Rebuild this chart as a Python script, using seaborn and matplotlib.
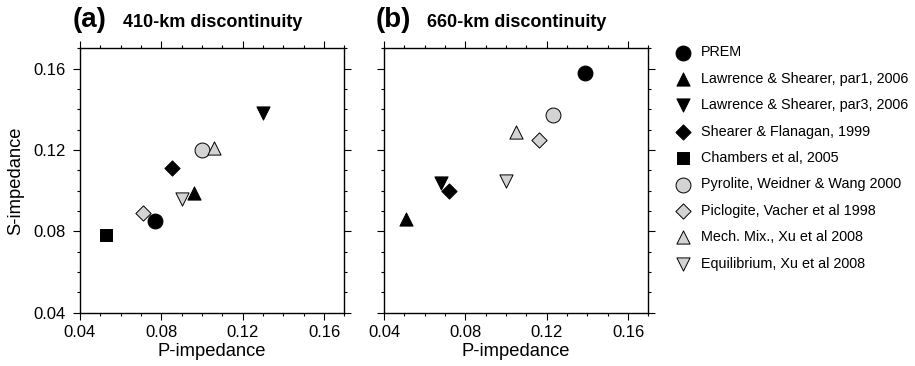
import matplotlib
matplotlib.use("Agg")
import matplotlib.pyplot as plt
from matplotlib.ticker import MultipleLocator
import seaborn as sns

sns.set_theme(style="ticks")
plt.rcParams['font.family'] = ['Liberation Sans', 'DejaVu Sans']
plt.rcParams['text.color'] = 'black'
plt.rcParams['axes.labelcolor'] = 'black'

# models, markers and fill
models = ["PREM", "Lawrence & Shearer, par1, 2006", "Lawrence & Shearer, par3, 2006",
          "Shearer & Flanagan, 1999", "Chambers et al, 2005", "Pyrolite, Weidner & Wang 2000",
          "Piclogite, Vacher et al 1998", "Mech. Mix., Xu et al 2008", "Equilibrium, Xu et al 2008"]
markers = ["o", "^", "v", "D", "s", "o", "D", "^", "v"]
fills = ["black", "black", "black", "black", "black", "#d3d3d3", "#d3d3d3", "#d3d3d3", "#d3d3d3"]
sizes = [115, 90, 90, 60, 70, 115, 60, 90, 90]

# 410-km discontinuity
p410 = [0.077, 0.096, 0.130, 0.085, 0.053, 0.100, 0.071, 0.106, 0.090]
s410 = [0.085, 0.099, 0.138, 0.111, 0.078, 0.120, 0.089, 0.121, 0.096]
# 660-km discontinuity (no Chambers value)
p660 = [0.139, 0.051, 0.068, 0.072, None, 0.123, 0.116, 0.105, 0.100]
s660 = [0.158, 0.086, 0.104, 0.100, None, 0.137, 0.125, 0.129, 0.105]

fig = plt.figure(figsize=(9.15, 3.66), dpi=100)
ax_a = fig.add_axes([0.0874, 0.1456, 0.289, 0.7224])
ax_b = fig.add_axes([0.4197, 0.1456, 0.289, 0.7224])

for ax, px, py in [(ax_a, p410, s410), (ax_b, p660, s660)]:
    for i, m in enumerate(models):
        if px[i] is None:
            continue
        sns.scatterplot(x=[px[i]], y=[py[i]], marker=markers[i], color=fills[i],
                        edgecolor="black", linewidth=0.7, s=sizes[i], ax=ax, label=m,
                        legend=False, zorder=3)
    ax.set_xlim(0.04, 0.17)
    ax.set_ylim(0.04, 0.17)
    ax.xaxis.set_major_locator(MultipleLocator(0.04))
    ax.yaxis.set_major_locator(MultipleLocator(0.04))
    ax.xaxis.set_minor_locator(MultipleLocator(0.01))
    ax.yaxis.set_minor_locator(MultipleLocator(0.01))
    ax.xaxis.set_major_formatter(plt.FuncFormatter(lambda v, p: f"{v:.2f}"))
    ax.yaxis.set_major_formatter(plt.FuncFormatter(lambda v, p: f"{v:.2f}"))
    ax.tick_params(which="both", direction="out", top=True, right=True, width=0.8,
                   colors="black", labelsize=12)
    ax.tick_params(which="major", length=5)
    ax.tick_params(which="minor", length=2.5)
    ax.tick_params(axis="y", pad=5)
    ax.tick_params(axis="x", pad=4)
    for sp in ax.spines.values():
        sp.set_visible(True)
        sp.set_linewidth(1.0)
        sp.set_color("black")
    ax.set_xlabel("P-impedance", fontsize=13.2, labelpad=2)

ax_a.set_ylabel("S-impedance", fontsize=13.2, labelpad=7)
ax_b.set_ylabel("")
ax_b.tick_params(labelleft=False)

fig.text(0.079, 0.927, "(a)", fontsize=20, fontweight="bold", va="baseline")
fig.text(0.134, 0.927, "410-km discontinuity", fontsize=13, fontweight="bold", va="baseline")
fig.text(0.411, 0.927, "(b)", fontsize=20, fontweight="bold", va="baseline")
fig.text(0.467, 0.927, "660-km discontinuity", fontsize=13, fontweight="bold", va="baseline")

handles, labels = ax_a.get_legend_handles_labels()
fig.legend(handles, labels, loc="upper left", bbox_to_anchor=(0.731, 0.892),
           frameon=False, fontsize=10.4, labelspacing=0.86, handletextpad=0.6,
           borderaxespad=0, handlelength=1.2, labelcolor="black")

fig.savefig("out.png", dpi=100)
